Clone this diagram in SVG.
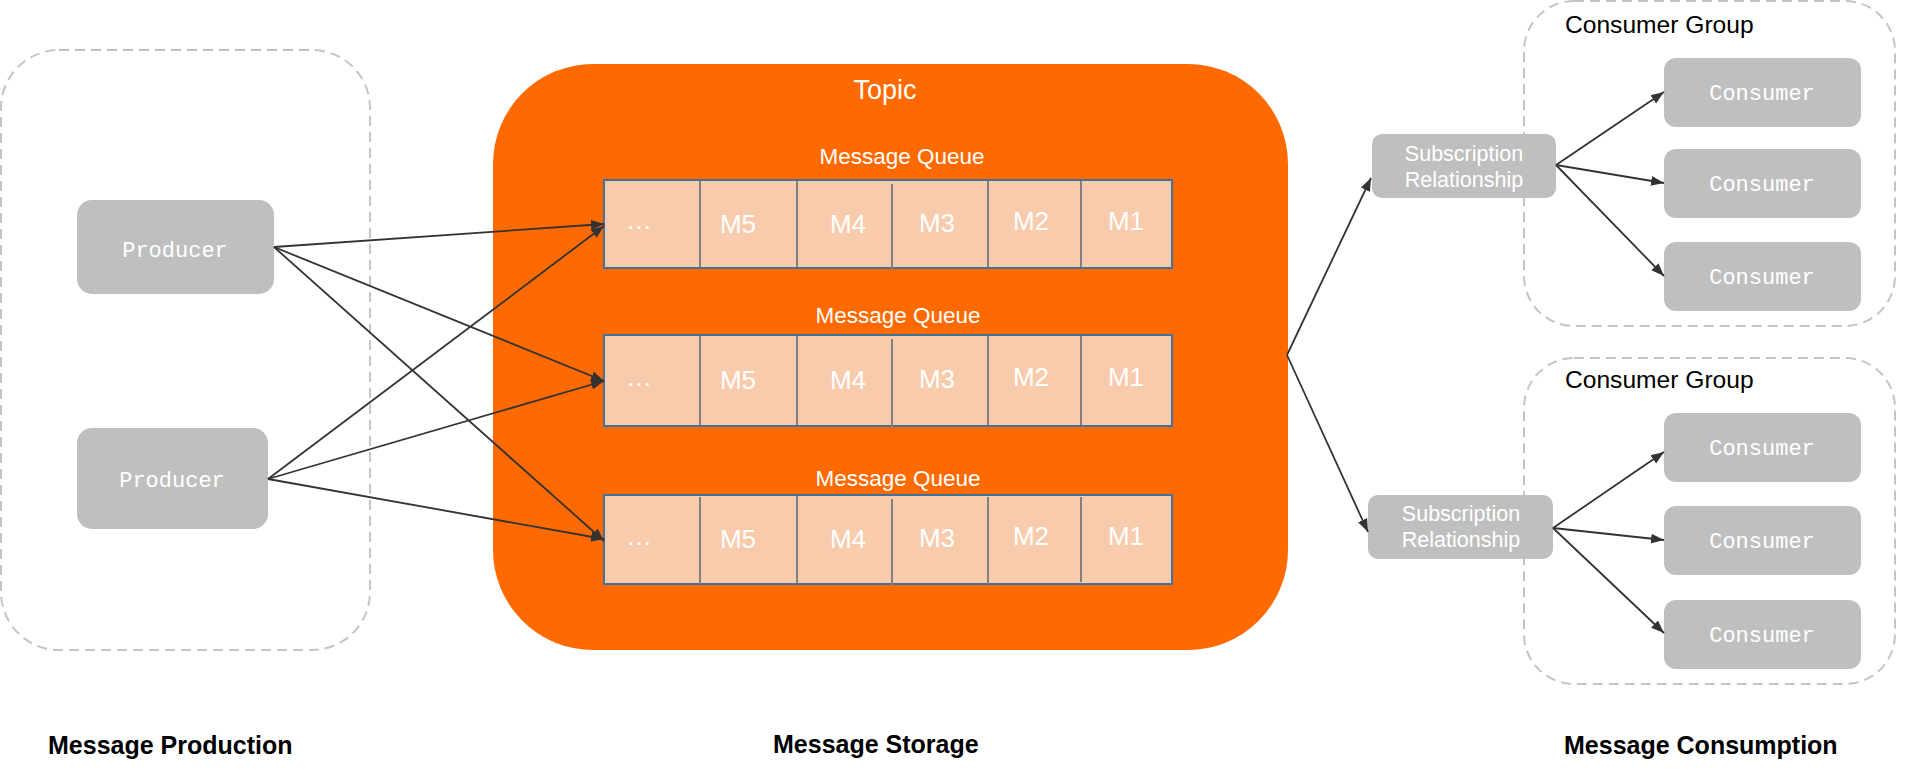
<svg xmlns="http://www.w3.org/2000/svg" width="1929" height="776" viewBox="0 0 1929 776">
<defs>
<style>
.dash{fill:none;stroke:#c4c4c4;stroke-width:2;stroke-dasharray:10 6}
.node{fill:#bfbfbf}
.mono{font-family:"Liberation Mono",monospace;font-size:22px;fill:#ffffff;text-anchor:middle}
.sans{font-family:"Liberation Sans",Arial,sans-serif;fill:#ffffff;text-anchor:middle}
.q{fill:#f8cbad;stroke:#41719c;stroke-width:2}
.sep{stroke:#808080;stroke-width:2}
.m{font-family:"Liberation Sans",Arial,sans-serif;font-size:26px;fill:#ffffff;text-anchor:middle}
.lbl{font-family:"Liberation Sans",Arial,sans-serif;font-size:25px;font-weight:bold;fill:#000000}
.grp{font-family:"Liberation Sans",Arial,sans-serif;font-size:24.6px;fill:#000000}
.conn line{stroke:#333333;stroke-width:1.8;marker-end:url(#arr)}
</style>
<marker id="arr" markerUnits="userSpaceOnUse" markerWidth="14" markerHeight="12" refX="13" refY="5" orient="auto" viewBox="0 0 14 10">
<path d="M0,0 L13,5 L0,10 z" fill="#333333"/>
</marker>
</defs>
<rect width="1929" height="776" fill="#ffffff"/>

<g id="production-area">
<rect class="dash" x="1" y="50" width="369" height="600" rx="58"/>
</g>

<g id="producer1">
<rect class="node" x="77" y="200" width="197" height="94" rx="15"/>
<text class="mono" x="175" y="257">Producer</text>
</g>
<g id="producer2">
<rect class="node" x="77" y="428" width="191" height="101" rx="15"/>
<text class="mono" x="172" y="487">Producer</text>
</g>

<g id="topic">
<rect x="493" y="64" width="795" height="586" rx="100" fill="#ff6a00"/>
<text class="sans" x="885" y="99" font-size="27">Topic</text>
</g>

<g id="queue1">
<text class="sans" x="902" y="164" font-size="22.5">Message Queue</text>
<rect class="q" x="604" y="180" width="568" height="88"/>
<line class="sep" x1="700" y1="181" x2="700" y2="267"/>
<line class="sep" x1="797" y1="181" x2="797" y2="267"/>
<line class="sep" x1="892" y1="184" x2="892" y2="269"/>
<line class="sep" x1="988" y1="181" x2="988" y2="267"/>
<line class="sep" x1="1081" y1="181" x2="1081" y2="267"/>
<text class="m" x="639" y="229" font-size="20">…</text>
<text class="m" x="738" y="233">M5</text>
<text class="m" x="848" y="233">M4</text>
<text class="m" x="937" y="232">M3</text>
<text class="m" x="1031" y="230">M2</text>
<text class="m" x="1126" y="230">M1</text>
</g>

<g id="queue2">
<text class="sans" x="898" y="323" font-size="22.5">Message Queue</text>
<rect class="q" x="604" y="335" width="568" height="91"/>
<line class="sep" x1="700" y1="336" x2="700" y2="425"/>
<line class="sep" x1="797" y1="336" x2="797" y2="425"/>
<line class="sep" x1="892" y1="339" x2="892" y2="427"/>
<line class="sep" x1="988" y1="336" x2="988" y2="425"/>
<line class="sep" x1="1081" y1="336" x2="1081" y2="425"/>
<text class="m" x="639" y="386" font-size="20">…</text>
<text class="m" x="738" y="389">M5</text>
<text class="m" x="848" y="389">M4</text>
<text class="m" x="937" y="388">M3</text>
<text class="m" x="1031" y="386">M2</text>
<text class="m" x="1126" y="386">M1</text>
</g>

<g id="queue3">
<text class="sans" x="898" y="486" font-size="22.5">Message Queue</text>
<rect class="q" x="604" y="495" width="568" height="89"/>
<line class="sep" x1="700" y1="497" x2="700" y2="584"/>
<line class="sep" x1="797" y1="496" x2="797" y2="583"/>
<line class="sep" x1="892" y1="499" x2="892" y2="585"/>
<line class="sep" x1="988" y1="497" x2="988" y2="584"/>
<line class="sep" x1="1081" y1="497" x2="1081" y2="582"/>
<text class="m" x="639" y="545" font-size="20">…</text>
<text class="m" x="738" y="548">M5</text>
<text class="m" x="848" y="548">M4</text>
<text class="m" x="937" y="547">M3</text>
<text class="m" x="1031" y="545">M2</text>
<text class="m" x="1126" y="545">M1</text>
</g>

<g id="consumer-group1">
<rect class="dash" x="1524" y="1" width="371" height="325" rx="50"/>
<text class="grp" x="1565" y="33">Consumer Group</text>
</g>
<g id="consumer-group2">
<rect class="dash" x="1524" y="358" width="371" height="326" rx="50"/>
<text class="grp" x="1565" y="388">Consumer Group</text>
</g>

<g id="subscription1">
<rect class="node" x="1372" y="134" width="184" height="64" rx="10"/>
<text class="sans" x="1464" y="161" font-size="21.5">Subscription</text>
<text class="sans" x="1464" y="187" font-size="21.5">Relationship</text>
</g>
<g id="subscription2">
<rect class="node" x="1368" y="495" width="185" height="64" rx="10"/>
<text class="sans" x="1461" y="521" font-size="21.5">Subscription</text>
<text class="sans" x="1461" y="547" font-size="21.5">Relationship</text>
</g>

<g id="consumer1"><rect class="node" x="1664" y="58" width="197" height="69" rx="12"/><text class="mono" x="1762" y="100">Consumer</text></g>
<g id="consumer2"><rect class="node" x="1664" y="149" width="197" height="69" rx="12"/><text class="mono" x="1762" y="191">Consumer</text></g>
<g id="consumer3"><rect class="node" x="1664" y="242" width="197" height="69" rx="12"/><text class="mono" x="1762" y="284">Consumer</text></g>
<g id="consumer4"><rect class="node" x="1664" y="413" width="197" height="69" rx="12"/><text class="mono" x="1762" y="455">Consumer</text></g>
<g id="consumer5"><rect class="node" x="1664" y="506" width="197" height="69" rx="12"/><text class="mono" x="1762" y="548">Consumer</text></g>
<g id="consumer6"><rect class="node" x="1664" y="600" width="197" height="69" rx="12"/><text class="mono" x="1762" y="642">Consumer</text></g>

<g class="conn" id="connectors">
<line x1="274" y1="247" x2="604" y2="224"/>
<line x1="274" y1="247" x2="604" y2="381"/>
<line x1="274" y1="247" x2="604" y2="541"/>
<line x1="268" y1="479" x2="604" y2="226"/>
<line x1="268" y1="479" x2="604" y2="381"/>
<line x1="268" y1="479" x2="604" y2="539"/>
<line x1="1287" y1="355" x2="1371" y2="178"/>
<line x1="1287" y1="355" x2="1368" y2="532"/>
<line x1="1556" y1="165" x2="1664" y2="92"/>
<line x1="1556" y1="165" x2="1664" y2="183"/>
<line x1="1556" y1="165" x2="1664" y2="276"/>
<line x1="1553" y1="528" x2="1664" y2="452"/>
<line x1="1553" y1="528" x2="1664" y2="540"/>
<line x1="1553" y1="528" x2="1664" y2="633"/>
</g>

<g id="section-labels">
<text class="lbl" x="48" y="754">Message Production</text>
<text class="lbl" x="773" y="753">Message Storage</text>
<text class="lbl" x="1564" y="754">Message Consumption</text>
</g>
</svg>
